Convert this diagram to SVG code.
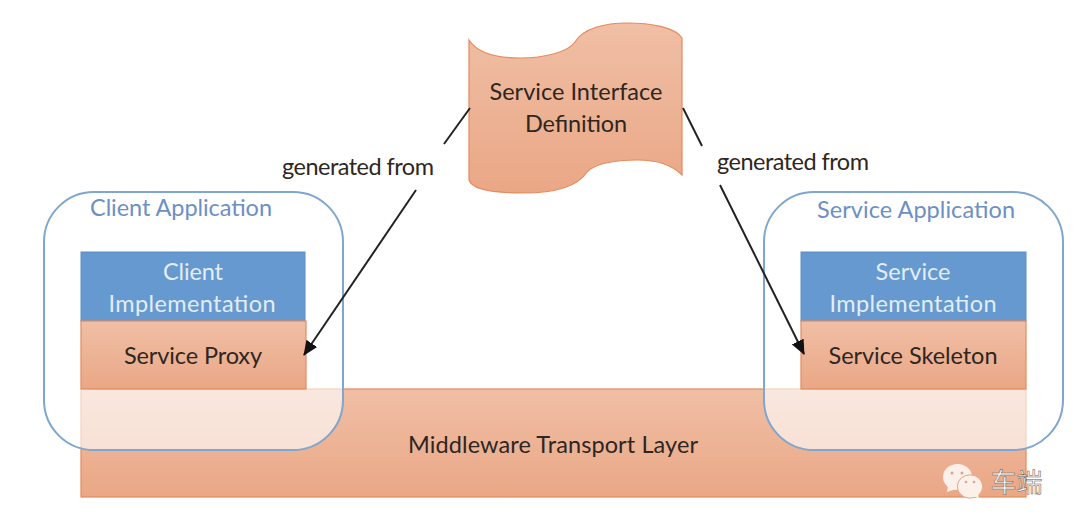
<svg xmlns="http://www.w3.org/2000/svg" width="1076" height="530" viewBox="0 0 1076 530">
  <style>
    text { font-family: "Lato", "Open Sans", "Noto Sans", sans-serif; font-size: 23.5px; text-anchor: middle; }
    .dark { fill: #2e2622; }
    .light { fill: #e2edf7; }
    .title { fill: #6d8fc4; }
    .orange { fill: url(#peach); stroke: #e58a5c; stroke-width: 1.2; }
    .blue { fill: #6699cf; stroke: #5b8fc4; stroke-width: 1; }
    .app { fill: #ffffff; fill-opacity: 0.62; stroke: #7ea6cf; stroke-width: 2; }
    .link { fill: none; stroke: #222222; stroke-width: 2; }
    .bubble { fill: #fbf1ea; }
    .eye { fill: #d9a58c; }
  </style>
  <defs>
    <linearGradient id="peach" x1="0" y1="0" x2="0" y2="1">
      <stop offset="0" stop-color="#f0bfa5"/>
      <stop offset="1" stop-color="#eaa786"/>
    </linearGradient>
    <marker id="head" markerUnits="userSpaceOnUse" markerWidth="16" markerHeight="14" refX="14" refY="7" orient="auto">
      <path d="M0 0.5 L15 7 L0 13.5 Z" fill="#111111"/>
    </marker>
  </defs>

  <g id="transport-layer">
    <rect class="orange" x="81" y="389" width="945" height="108"/>
  </g>

  <g id="client-application">
    <rect class="app" x="44" y="192" width="299" height="258" rx="50" ry="50"/>
    <text class="title" x="181" y="216" textLength="182">Client Application</text>
  </g>
  <g id="service-application">
    <rect class="app" x="764" y="192" width="299" height="258" rx="50" ry="50"/>
    <text class="title" x="916" y="218" textLength="198">Service Application</text>
  </g>

  <g id="transport-label">
    <text class="dark" x="553" y="453" textLength="290">Middleware Transport Layer</text>
  </g>

  <g id="client-implementation">
    <rect class="blue" x="81" y="252" width="224" height="69"/>
    <text class="light" x="193" y="280" textLength="60">Client</text>
    <text class="light" x="192" y="312" textLength="167">Implementation</text>
  </g>
  <g id="service-proxy">
    <rect class="orange" x="81" y="321" width="225" height="68"/>
    <text class="dark" x="193" y="364" textLength="138">Service Proxy</text>
  </g>
  <g id="service-implementation">
    <rect class="blue" x="801" y="252" width="225" height="69"/>
    <text class="light" x="913" y="280" textLength="75">Service</text>
    <text class="light" x="913" y="312" textLength="167">Implementation</text>
  </g>
  <g id="service-skeleton">
    <rect class="orange" x="801" y="321" width="225" height="68"/>
    <text class="dark" x="913" y="364" textLength="169">Service Skeleton</text>
  </g>

  <g id="interface-definition">
    <path class="orange" d="M469 40 C478 54 500 58 520 58 C545 58 568 52 575 42 C583 28 606 23 627 23 C650 23 675 27 682 38 L682 175 C672 165 656 160 638 160 C615 160 596 163 587 172 C578 186 555 193 523 193 C495 193 472 190 469 180 Z"/>
    <text class="dark" x="576" y="100" textLength="173">Service Interface</text>
    <text class="dark" x="576" y="132" textLength="102">Definition</text>
  </g>

  <g id="connectors">
    <line class="link" x1="470" y1="108" x2="444" y2="144"/>
    <line class="link" x1="416" y1="190" x2="304" y2="355" marker-end="url(#head)"/>
    <line class="link" x1="683" y1="108" x2="702" y2="146"/>
    <line class="link" x1="720" y1="185" x2="804" y2="354" marker-end="url(#head)"/>
    <text class="dark" x="358" y="175" textLength="152">generated from</text>
    <text class="dark" x="793" y="170" textLength="152">generated from</text>
  </g>

  <g id="badge">
    <ellipse class="bubble" cx="957.500" cy="477" rx="14.500" ry="13"/>
    <path class="bubble" d="M948 486 L947 492 L956 489 Z"/>
    <ellipse class="bubble" cx="970" cy="486.500" rx="12.700" ry="11.700" stroke="#e9a483" stroke-width="1"/>
    <path class="bubble" d="M974 496 L979 499 L978 493 Z"/>
    <circle class="eye" cx="952" cy="473" r="1.500"/>
    <circle class="eye" cx="962" cy="473" r="1.500"/>
    <circle class="eye" cx="966" cy="482" r="1.300"/>
    <circle class="eye" cx="974" cy="482" r="1.300"/>
    <text x="1016.500" y="492" style="font-family:'Noto Sans CJK SC','Noto Sans',sans-serif;font-size:26px" fill="#f6f6f6" stroke="#5f5954" stroke-width="0.500">车端</text>
  </g>
</svg>
